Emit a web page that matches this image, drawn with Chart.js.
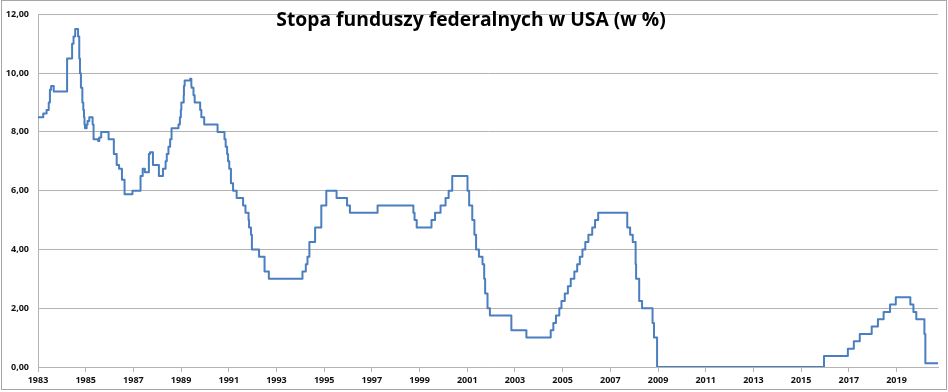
<!DOCTYPE html>
<html>
<head>
<meta charset="utf-8">
<script src="https://cdn.jsdelivr.net/npm/chart.js@4/dist/chart.umd.min.js"></script>
<style>
  html, body { margin: 0; padding: 0; background: #ffffff; }
  #wrap { position: relative; width: 948px; height: 392px; overflow: hidden; background: #fff; }
  #frame { position: absolute; left: 1px; top: 0px; width: 944px; height: 388px; border: 1px solid #a6a6a6; pointer-events: none; }
  #title { position: absolute; left: 0; width: 942px; top: 6px; text-align: center;
           font-family: "Open Sans", "Liberation Sans", sans-serif; font-weight: 700; font-size: 19.3px;
           color: #000; line-height: 26px; pointer-events: none; }
  canvas { position: absolute; left: 0; top: 0; }
</style>
</head>
<body>
<div id="wrap">
  <canvas id="c" width="948" height="392"></canvas>
  <div id="title">Stopa funduszy federalnych w USA (w %)</div>
  <div id="frame"></div>
</div>
<script>
// Dates (decimal years) at which the target rate changed, and the new rate (%)
const changeDates = [
  1983.00, 1983.22, 1983.36, 1983.45, 1983.50, 1983.55, 1983.66,
  1984.22, 1984.43, 1984.49, 1984.56, 1984.68, 1984.73, 1984.76, 1984.80, 1984.86, 1984.90, 1984.93, 1984.95, 1984.97,
  1985.04, 1985.08, 1985.15, 1985.29, 1985.33, 1985.52, 1985.57, 1985.65, 1985.96,
  1986.18, 1986.30, 1986.40, 1986.52, 1986.63, 1986.96,
  1987.30, 1987.39, 1987.48, 1987.65, 1987.70, 1987.82,
  1988.07, 1988.24, 1988.35, 1988.40, 1988.47, 1988.54, 1988.60, 1988.89, 1988.95, 1988.99,
  1989.01, 1989.11, 1989.12, 1989.15, 1989.38, 1989.43, 1989.44, 1989.52, 1989.57, 1989.80, 1989.85, 1989.97,
  1990.53, 1990.82, 1990.87, 1990.93, 1990.97,
  1991.02, 1991.09, 1991.18, 1991.33, 1991.60, 1991.70, 1991.83, 1991.85, 1991.93, 1991.97,
  1992.27, 1992.50, 1992.68,
  1994.09, 1994.23, 1994.30, 1994.38, 1994.62, 1994.88,
  1995.09, 1995.52, 1995.96, 1996.08, 1997.24,
  1998.74, 1998.79, 1998.88, 1999.50, 1999.65, 1999.88,
  2000.09, 2000.22, 2000.37,
  2001.01, 2001.08, 2001.21, 2001.30, 2001.37, 2001.49, 2001.64, 2001.71, 2001.75, 2001.85, 2001.95,
  2002.85, 2003.48,
  2004.50, 2004.61, 2004.72, 2004.86, 2004.95,
  2005.09, 2005.22, 2005.34, 2005.49, 2005.61, 2005.72, 2005.83, 2005.95,
  2006.08, 2006.24, 2006.36, 2006.49,
  2007.71, 2007.83, 2007.94,
  2008.06, 2008.08, 2008.21, 2008.33, 2008.77, 2008.83, 2008.96,
  2015.96, 2016.96, 2017.21, 2017.46, 2017.96,
  2018.22, 2018.46, 2018.73, 2018.97,
  2019.58, 2019.71, 2019.83, 2020.17, 2020.21, 2020.74
];
const rates = [
  8.5, 8.625, 8.75, 9.0, 9.4375, 9.5625, 9.375,
  10.5, 11.0, 11.25, 11.5, 11.25, 10.5, 10.0, 9.5, 9.0, 8.75, 8.5, 8.25, 8.125,
  8.25, 8.375, 8.5, 8.25, 7.75, 7.6875, 7.8125, 8.0, 7.75,
  7.25, 6.875, 6.75, 6.375, 5.875, 6.0,
  6.5, 6.75, 6.625, 7.25, 7.3125, 6.875,
  6.5, 6.75, 7.0, 7.25, 7.5, 7.75, 8.125, 8.25, 8.5, 8.75,
  9.0, 9.25, 9.5625, 9.75, 9.8125, 9.5625, 9.5, 9.25, 9.0, 8.75, 8.5, 8.25,
  8.0, 7.75, 7.5, 7.25, 7.0,
  6.75, 6.25, 6.0, 5.75, 5.5, 5.25, 5.0, 4.75, 4.5, 4.0,
  3.75, 3.25, 3.0,
  3.25, 3.5, 3.75, 4.25, 4.75, 5.5,
  6.0, 5.75, 5.5, 5.25, 5.5,
  5.25, 5.0, 4.75, 5.0, 5.25, 5.5,
  5.75, 6.0, 6.5,
  6.0, 5.5, 5.0, 4.5, 4.0, 3.75, 3.5, 3.0, 2.5, 2.0, 1.75,
  1.25, 1.0,
  1.25, 1.5, 1.75, 2.0, 2.25,
  2.5, 2.75, 3.0, 3.25, 3.5, 3.75, 4.0, 4.25,
  4.5, 4.75, 5.0, 5.25,
  4.75, 4.5, 4.25,
  3.5, 3.0, 2.25, 2.0, 1.5, 1.0, 0.0,
  0.375, 0.625, 0.875, 1.125, 1.375,
  1.625, 1.875, 2.125, 2.375,
  2.125, 1.875, 1.625, 1.125, 0.125, 0.125
];
const xTickYears = [1983, 1985, 1987, 1989, 1991, 1993, 1995, 1997, 1999, 2001, 2003, 2005, 2007, 2009, 2011, 2013, 2015, 2017, 2019];
const yTickValues = [0, 2, 4, 6, 8, 10, 12];

const points = changeDates.map((d, i) => ({ x: d, y: rates[i] }));
const gridColor = '#b4b4b4';
const tickFont = { family: '"Open Sans", "Liberation Sans", sans-serif', size: 9, weight: 'bold' };

new Chart(document.getElementById('c'), {
  type: 'line',
  data: {
    datasets: [{
      data: points,
      borderColor: '#4a7ebf',
      borderWidth: 2,
      pointRadius: 0,
      pointHoverRadius: 0,
      stepped: true,
      fill: false,
      borderJoinStyle: 'round'
    }]
  },
  options: {
    responsive: false,
    animation: false,
    devicePixelRatio: 1,
    layout: { padding: { left: 0, right: 10, top: 10, bottom: 0 } },
    plugins: { legend: { display: false }, tooltip: { enabled: false }, title: { display: false } },
    scales: {
      x: {
        type: 'linear',
        min: xTickYears[0],
        max: changeDates[changeDates.length - 1],
        afterBuildTicks: (axis) => { axis.ticks = xTickYears.map(v => ({ value: v })); },
        afterFit: (s) => { s.height = 25; },
        ticks: { font: tickFont, color: '#111111', padding: 3, maxRotation: 0, autoSkip: false,
                 callback: (v) => String(v) },
        grid: { drawOnChartArea: false, drawTicks: true, tickLength: 5, color: gridColor },
        border: { display: true, color: gridColor }
      },
      y: {
        min: 0,
        max: 12,
        afterBuildTicks: (axis) => { axis.ticks = yTickValues.map(v => ({ value: v })); },
        afterFit: (s) => { s.width = 38; },
        ticks: { font: tickFont, color: '#111111', padding: 9,
                 callback: (v) => Number(v).toFixed(2).replace('.', ',') },
        grid: { color: gridColor, drawTicks: false },
        border: { display: true, color: gridColor }
      }
    }
  }
});
</script>
</body>
</html>
